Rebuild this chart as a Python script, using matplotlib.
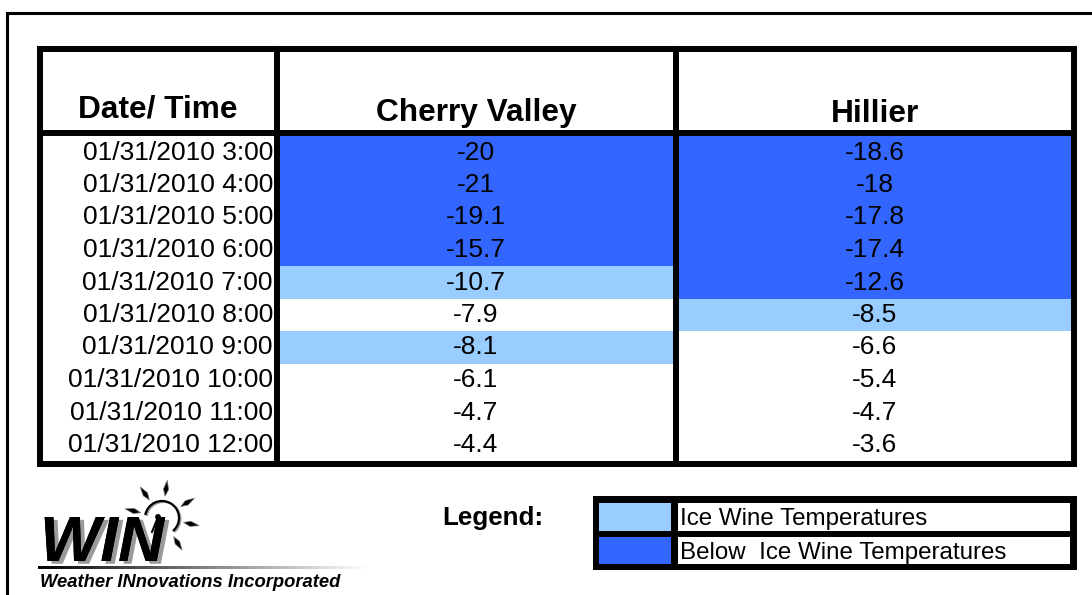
import numpy as np
import matplotlib
matplotlib.use("Agg")
import matplotlib.pyplot as plt
import matplotlib.patheffects as pe
from matplotlib.patches import Rectangle, Polygon, Arc, Circle

plt.rcParams["font.family"] = ["Liberation Sans", "DejaVu Sans"]

# DATA

dates = [
    "01/31/2010 3:00", "01/31/2010 4:00", "01/31/2010 5:00", "01/31/2010 6:00",
    "01/31/2010 7:00", "01/31/2010 8:00", "01/31/2010 9:00", "01/31/2010 10:00",
    "01/31/2010 11:00", "01/31/2010 12:00",
]
cherry_valley = [-20, -21, -19.1, -15.7, -10.7, -7.9, -8.1, -6.1, -4.7, -4.4]
hillier = [-18.6, -18, -17.8, -17.4, -12.6, -8.5, -6.6, -5.4, -4.7, -3.6]
headers = ["Date/ Time", "Cherry Valley", "Hillier"]
legend_labels = ["Ice Wine Temperatures", "Below  Ice Wine Temperatures"]

ICE_WINE_MAX = -8    # -8 C and colder
ICE_WINE_MIN = -12   # colder than this is below the ice wine band

LIGHT = "#99CCFF"
DARK = "#3366FF"


def cell_color(v):
    if v < ICE_WINE_MIN:
        return DARK
    if v <= ICE_WINE_MAX:
        return LIGHT
    return None


def fmt(v):
    return f"{v:g}"


# LAYOUT (pixel space)

W, H = 1092, 595
fig = plt.figure(figsize=(W / 100, H / 100), dpi=100)
ax = fig.add_axes([0, 0, 1, 1])
ax.set_xlim(0, W)
ax.set_ylim(H, 0)
ax.axis("off")

# outer frame (cropped at right and bottom)
ax.plot([7, 7, W], [H, 13, 13], color="black", lw=2.2, solid_joinstyle="miter")

tbl_l, tbl_r, tbl_t, tbl_b = 40, 1074, 49, 464
head_b = 133
col_x = [40, 276.5, 675.5, 1074]
row_top, row_bot = 136, 461
n = len(dates)
row_h = (row_bot - row_top) / n

# colored cells
col_fill = [(279, 673.5), (678, 1071)]
for ci, series in enumerate([cherry_valley, hillier]):
    x0, x1 = col_fill[ci]
    for i, v in enumerate(series):
        c = cell_color(v)
        if c:
            ax.add_patch(Rectangle((x0, row_top + i * row_h), x1 - x0, row_h,
                                   facecolor=c, edgecolor="none", zorder=1))

# grid lines
lw = 4.3
ax.add_patch(Rectangle((tbl_l, tbl_t), tbl_r - tbl_l, tbl_b - tbl_t, fill=False,
                       edgecolor="black", lw=lw, joinstyle="miter", zorder=3))
ax.plot([tbl_l, tbl_r], [head_b, head_b], color="black", lw=lw, zorder=3)
for x in col_x[1:3]:
    ax.plot([x, x], [tbl_t, tbl_b], color="black", lw=lw, zorder=3)

# headers
ax.text((col_x[0] + col_x[1]) / 2, 117, headers[0], ha="center", va="baseline",
        fontsize=22.8, fontweight="bold", zorder=4)
for k in (1, 2):
    ax.text((col_x[k] + col_x[k + 1]) / 2, 121.5, headers[k], ha="center",
            va="baseline", fontsize=22.8, fontweight="bold", zorder=4)

# rows
for i in range(n):
    base = row_top + i * row_h + 23.5
    ax.text(273, base, dates[i], ha="right", va="baseline", fontsize=19, zorder=4)
    ax.text((col_x[1] + col_x[2]) / 2, base, fmt(cherry_valley[i]), ha="center",
            va="baseline", fontsize=19, zorder=4)
    ax.text((col_x[2] + col_x[3]) / 2, base, fmt(hillier[i]), ha="center",
            va="baseline", fontsize=19, zorder=4)

# legend
ax.text(442, 525, "Legend:", ha="left", va="baseline", fontsize=18.7,
        fontweight="bold")
ax.add_patch(Rectangle((593, 496), 1077 - 593, 570 - 496, facecolor="black",
                       edgecolor="none"))
legend_rows = [(503, 531), (537, 564)]
for (y0, y1), c, lab in zip(legend_rows, [LIGHT, DARK], legend_labels):
    ax.add_patch(Rectangle((599, y0), 671 - 599, y1 - y0, facecolor=c,
                           edgecolor="none"))
    ax.add_patch(Rectangle((678, y0), 1070 - 678, y1 - y0, facecolor="white",
                           edgecolor="none"))
    ax.text(680, y1 - 5.5, lab, ha="left", va="baseline", fontsize=17.4)

# logo
grad = np.linspace(0, 1, 256).reshape(1, -1)
ax.imshow(grad, extent=[38, 368, 569, 566], aspect="auto", cmap="gray",
          vmin=0, vmax=1, zorder=2)
ax.text(40, 561, "WIN", ha="left", va="baseline", fontsize=46, fontweight="heavy",
        fontstyle="italic", color="black", zorder=3,
        path_effects=[pe.withSimplePatchShadow(offset=(3, -2),
                                               shadow_rgbFace="#9a9a9a", alpha=1),
                      pe.Normal()])
ax.text(40, 587, "Weather INnovations Incorporated", ha="left", va="baseline",
        fontsize=13.2, fontweight="heavy", fontstyle="italic")

cx, cy, r = 162, 518, 17
ax.add_patch(Arc((cx + 1.5, cy + 1), 2 * r, 2 * r, theta1=190, theta2=410,
                 color="#999999", lw=1.4))
ax.add_patch(Arc((cx, cy), 2 * r, 2 * r, theta1=190, theta2=410, color="black",
                 lw=1.6))
for ang in [125, 82, 31.5, -11.6, -58, 166]:
    a = np.deg2rad(ang)
    ux, uy = np.cos(a), -np.sin(a)
    px, py = -uy, ux
    r1, r2, wd = 22, 38, 2.6
    pts = [(cx + ux * r1, cy + uy * r1),
           (cx + ux * (r1 + 7) + px * wd, cy + uy * (r1 + 7) + py * wd),
           (cx + ux * r2, cy + uy * r2),
           (cx + ux * (r1 + 7) - px * wd, cy + uy * (r1 + 7) - py * wd)]
    ax.add_patch(Polygon(pts, closed=True, facecolor="black", edgecolor="#777777",
                         lw=0.5))
ax.add_patch(Circle((158, 517), 2.2, color="black"))
ax.plot([158, 152], [517, 532], color="black", lw=1.5)

ax.set_xlim(0, W)
ax.set_ylim(H, 0)
fig.savefig("out.png", dpi=100)
